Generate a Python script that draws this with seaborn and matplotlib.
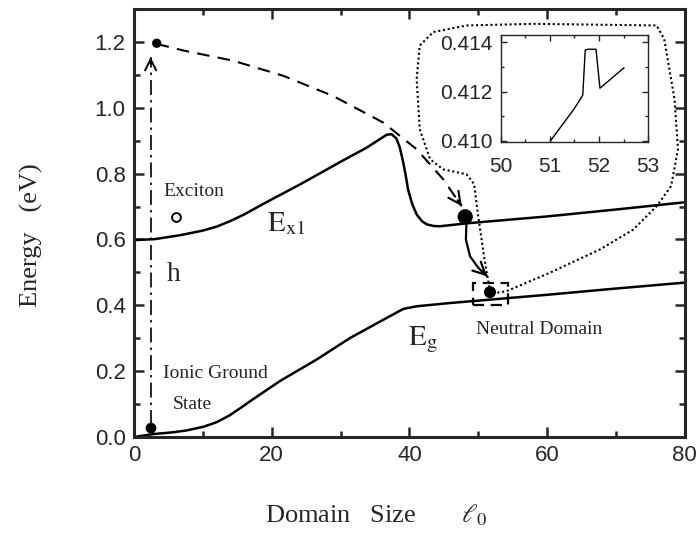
import numpy as np
import pandas as pd
import matplotlib
matplotlib.use("Agg")
import matplotlib.pyplot as plt
import seaborn as sns
from matplotlib.ticker import MultipleLocator, FormatStrFormatter
from matplotlib.patches import Rectangle

# ---------------- data ----------------
ex1_x = [0, 3, 6.7, 10, 12, 14, 16, 18, 19.3, 21.2, 24, 26.5, 30, 33.8, 35.5, 36.7, 37.4,
         38.1, 38.6, 39.1, 39.5, 39.8, 40.4, 41.05, 41.8, 42.5, 43.5, 44.4, 48.3, 60, 70, 80]
ex1_y = [0.598, 0.601, 0.613, 0.627, 0.639, 0.656, 0.676, 0.699, 0.714, 0.735, 0.766, 0.795,
         0.836, 0.879, 0.902, 0.918, 0.920, 0.907, 0.880, 0.834, 0.790, 0.752, 0.708, 0.676,
         0.656, 0.646, 0.641, 0.640, 0.649, 0.670, 0.691, 0.713]

eg_x = [0, 2.8, 5.5, 7.65, 10.06, 12.0, 13.9, 15.6, 17.3, 21.2, 26.5, 31.4, 36.2, 39.1, 41,
        45.9, 60, 70, 80]
eg_y = [0.0, 0.009, 0.014, 0.020, 0.031, 0.045, 0.066, 0.090, 0.115, 0.170, 0.235, 0.301,
        0.356, 0.389, 0.397, 0.407, 0.432, 0.451, 0.469]

inset_x = [51.01, 51.48, 51.61, 51.67, 51.72, 51.77, 51.94, 52.02, 52.51]
inset_y = [0.4100, 0.41126, 0.41166, 0.41186, 0.41369, 0.41372, 0.41372, 0.41214, 0.41297]

# annotation paths (data coordinates)
dash_x = [3.29, 7.16, 14.4, 21.7, 28.9, 36.2, 41.05, 44.9, 47.6]
dash_y = [1.194, 1.174, 1.143, 1.097, 1.036, 0.955, 0.874, 0.783, 0.701]

solid_x = [48.3, 48.2, 48.8, 50.0, 51.3]
solid_y = [0.661, 0.600, 0.549, 0.514, 0.488]

vert_x = [2.42, 2.42]
vert_y = [0.035, 1.154]

dot_x = [51.7, 50.8, 49.95, 49.4, 48.3, 44.9, 43.0, 41.5, 41.05, 41.5, 43.46, 48.3, 58.0,
         75.9, 77.0, 78.5, 79.0, 78.0, 75.9, 72.5, 67.7, 60.4, 54.1, 52.1]
dot_y = [0.440, 0.554, 0.676, 0.768, 0.798, 0.813, 0.844, 0.935, 1.087, 1.189, 1.230, 1.250,
         1.255, 1.250, 1.209, 1.026, 0.874, 0.762, 0.701, 0.630, 0.570, 0.499, 0.443, 0.436]

pts_x = [2.47, 3.3, 48.1, 51.7]
pts_y = [0.027, 1.196, 0.669, 0.44]
pts_s = [60, 45, 120, 75]

exciton_x, exciton_y = 6.1, 0.668

# ---------------- style ----------------
sns.set_theme(style="ticks")
plt.rcParams["font.family"] = ["Liberation Sans", "DejaVu Sans"]
plt.rcParams["mathtext.fontset"] = "stix"

fig = plt.figure(figsize=(6.96, 5.46), dpi=100)
ax = fig.add_axes([0.1925, 0.1996, 0.7915, 0.7839])

df_ex1 = pd.DataFrame({"x": ex1_x, "y": ex1_y})
df_eg = pd.DataFrame({"x": eg_x, "y": eg_y})
sns.lineplot(data=df_ex1, x="x", y="y", ax=ax, color="black", lw=1.8,
             sort=False, estimator=None)
sns.lineplot(data=df_eg, x="x", y="y", ax=ax, color="black", lw=1.8,
             sort=False, estimator=None)

# dashed curved arrow
ax.plot(dash_x, dash_y, color="black", lw=1.5, dashes=(6, 4))
ax.annotate("", xy=(dash_x[-1], dash_y[-1]),
            xytext=(dash_x[-1] - 0.6, dash_y[-1] + 0.018),
            arrowprops=dict(arrowstyle="->", lw=1.5, color="black",
                            mutation_scale=22, shrinkA=0, shrinkB=0))
# solid curved arrow
ax.plot(solid_x, solid_y, color="black", lw=1.6)
ax.annotate("", xy=(solid_x[-1], solid_y[-1]),
            xytext=(solid_x[-1] - 0.5, solid_y[-1] + 0.01),
            arrowprops=dict(arrowstyle="->", lw=1.6, color="black",
                            mutation_scale=22, shrinkA=0, shrinkB=0))
# vertical dash-dot arrow
ax.plot(vert_x, vert_y, color="black", lw=1.2, dashes=(9, 3, 1.5, 3))
ax.annotate("", xy=(vert_x[1], vert_y[1]), xytext=(vert_x[1], vert_y[1] - 0.02),
            arrowprops=dict(arrowstyle="->", lw=1.4, color="black",
                            mutation_scale=20, shrinkA=0, shrinkB=0))
# dotted callout
ax.plot(dot_x, dot_y, color="black", lw=1.5, linestyle=(0, (1, 1.3)))
# dashed box
ax.add_patch(Rectangle((49.2, 0.402), 5.1, 0.066, fill=False, lw=1.6,
                       ls=(0, (5, 3)), edgecolor="black"))
# dots
ax.scatter(pts_x, pts_y, s=pts_s, color="black", zorder=5, edgecolors="none")
ax.scatter([exciton_x], [exciton_y], s=40, facecolors="white",
           edgecolors="black", linewidths=1.4, zorder=5)

serif = ["Liberation Serif", "DejaVu Serif"]
ax.text(8.7, 0.746, "Exciton", family=serif, fontsize=14, ha="center", va="center")
ax.text(4.7, 0.473, "h", family=serif, fontsize=20, ha="left", va="baseline")
ax.text(19.3, 0.624, r"$\mathrm{E}_{\mathrm{x1}}$", fontsize=21, ha="left", va="baseline")
ax.text(39.8, 0.28, r"$\mathrm{E}_{\mathrm{g}}$", fontsize=21, ha="left", va="baseline")
ax.text(4.25, 0.192, "Ionic Ground", family=serif, fontsize=14, ha="left", va="center")
ax.text(5.7, 0.100, "State", family=serif, fontsize=14, ha="left", va="center")
ax.text(49.6, 0.326, "Neutral Domain", family=serif, fontsize=14, ha="left", va="center")

ax.set_xlim(0, 80)
ax.set_ylim(0, 1.3)
ax.xaxis.set_major_locator(MultipleLocator(20))
ax.xaxis.set_minor_locator(MultipleLocator(10))
ax.yaxis.set_major_locator(MultipleLocator(0.2))
ax.yaxis.set_minor_locator(MultipleLocator(0.1))
ax.yaxis.set_major_formatter(FormatStrFormatter("%.1f"))
ax.tick_params(which="both", direction="in", top=True, right=True, width=1.8,
               labelsize=16, pad=6)
ax.tick_params(which="major", length=7)
ax.tick_params(which="minor", length=4)
for s in ax.spines.values():
    s.set_linewidth(2.2)
ax.set_xlabel(r"Domain   Size       $\ell_0$", family=serif, fontsize=19)
ax.set_ylabel("Energy   (eV)", family=serif, fontsize=19)
ax.xaxis.set_label_coords(0.44, -0.152)
ax.yaxis.set_label_coords(-0.166, 0.472)

# ---------------- inset ----------------
ins = fig.add_axes([0.7194, 0.7405, 0.2118, 0.1955])
df_in = pd.DataFrame({"x": inset_x, "y": inset_y})
sns.lineplot(data=df_in, x="x", y="y", ax=ins, color="black", lw=1.0,
             sort=False, estimator=None)
ins.set_xlim(50, 53)
ins.set_ylim(0.40997, 0.4143)
ins.xaxis.set_major_locator(MultipleLocator(1))
ins.xaxis.set_minor_locator(MultipleLocator(0.5))
ins.yaxis.set_major_locator(MultipleLocator(0.002))
ins.yaxis.set_minor_locator(MultipleLocator(0.001))
ins.yaxis.set_major_formatter(FormatStrFormatter("%.3f"))
ins.tick_params(which="both", direction="in", top=True, right=True, width=1.0,
                labelsize=15)
ins.tick_params(axis="x", pad=11)
ins.tick_params(axis="y", pad=6)
ins.tick_params(which="major", length=4)
ins.tick_params(which="minor", length=2.5)
for s in ins.spines.values():
    s.set_linewidth(1.0)
ins.set_xlabel("")
ins.set_ylabel("")

fig.savefig("out.png", dpi=100)
